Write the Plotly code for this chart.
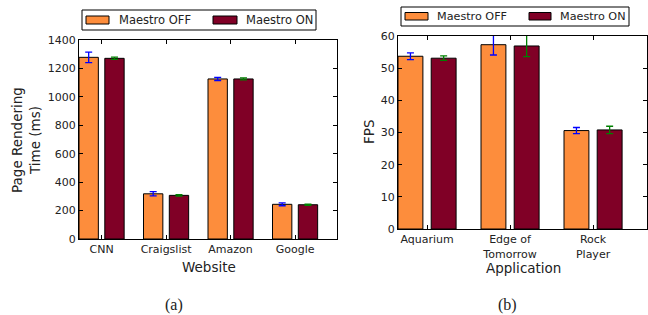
import plotly.graph_objects as go

# ---- data ----
websites = ["CNN", "Craigslist", "Amazon", "Google"]
render_off = [1278, 318, 1126, 244]
render_off_err = [37, 15, 11, 10]
render_on = [1271, 307, 1126, 241]
render_on_err = [8, 5, 7, 5]

apps = ["Aquarium", "Edge of<br>Tomorrow", "Rock<br>Player"]
fps_off = [53.7, 57.3, 30.6]
fps_off_err = [1.05, 3.2, 0.95]
fps_on = [53.1, 56.9, 30.8]
fps_on_err = [0.7, 3.3, 1.15]

series_names = ["Maestro OFF", "Maestro ON"]

ORANGE = "#FD8D3C"
DARKRED = "#800026"
FONT = "DejaVu Sans"
TXT = "#222"

fig = go.Figure()

def add_pair(off, off_err, on, on_err, xa, ya):
    pos = list(range(len(off)))
    fig.add_trace(go.Bar(
        x=pos, y=off, name=series_names[0], xaxis=xa, yaxis=ya,
        offset=-0.35, width=0.3,
        marker=dict(color=ORANGE, line=dict(color="black", width=1)),
        error_y=dict(type="data", array=off_err, color="blue", thickness=1.3, width=3.5),
        showlegend=False))
    fig.add_trace(go.Bar(
        x=pos, y=on, name=series_names[1], xaxis=xa, yaxis=ya,
        offset=0.05, width=0.3,
        marker=dict(color=DARKRED, line=dict(color="black", width=1)),
        error_y=dict(type="data", array=on_err, color="green", thickness=1.3, width=3.5),
        showlegend=False))

add_pair(render_off, render_off_err, render_on, render_on_err, "x", "y")
add_pair(fps_off, fps_off_err, fps_on, fps_on_err, "x2", "y2")

W, H = 648, 315
def px(v): return v / W
def py(v): return 1 - v / H

axis_common = dict(showline=True, linecolor="black", linewidth=1, mirror="ticks",
                   ticks="inside", ticklen=4, tickcolor="black", showgrid=False, zeroline=False,
                   tickfont=dict(family=FONT, size=11, color=TXT))

fig.update_layout(
    width=W, height=H, margin=dict(l=0, r=0, t=0, b=0, autoexpand=False),
    plot_bgcolor="white", paper_bgcolor="white",
    barmode="overlay", showlegend=False,
    font=dict(family=FONT, size=11, color=TXT),
    xaxis=dict(domain=[px(79), px(337)], range=[-0.35, 3.65], anchor="y",
               tickvals=list(range(len(websites))), ticktext=websites, **axis_common),
    yaxis=dict(domain=[py(239), py(40)], range=[0, 1400], dtick=200, anchor="x", **axis_common),
    xaxis2=dict(domain=[px(398), px(647)], range=[-0.35, 2.65], anchor="y2",
                tickvals=list(range(len(apps))), ticktext=apps, **axis_common),
    yaxis2=dict(domain=[py(229), py(36)], range=[0, 60], dtick=10, anchor="x2", **axis_common),
)

# ---- hand-drawn legends (matplotlib style: wide swatches) ----
def legend_box(box, items, fsize):
    x0, y0, x1, y1 = box
    fig.add_shape(type="rect", xref="paper", yref="paper", x0=px(x0), x1=px(x1), y0=py(y1), y1=py(y0),
                  line=dict(color="black", width=1), fillcolor="white", layer="above")
    for (sx0, sx1, sy0, sy1, tx, color, label) in items:
        fig.add_shape(type="rect", xref="paper", yref="paper", x0=px(sx0), x1=px(sx1), y0=py(sy1), y1=py(sy0),
                      line=dict(color="black", width=1), fillcolor=color, layer="above")
        fig.add_annotation(xref="paper", yref="paper", x=px(tx), y=py((sy0 + sy1) / 2), text=label,
                           showarrow=False, xanchor="left", yanchor="middle",
                           font=dict(family=FONT, size=fsize, color=TXT))

legend_box((82, 10, 316, 30), [
    (86, 109, 16, 24, 117, ORANGE, series_names[0]),
    (213, 237, 16, 24, 244, DARKRED, series_names[1]),
], 11.5)
legend_box((401, 7, 629, 26), [
    (405, 428, 12.5, 20, 435, ORANGE, series_names[0]),
    (529, 551, 12.5, 20, 558, DARKRED, series_names[1]),
], 11.2)

ann = [
    dict(text="Page Rendering<br>Time (ms)", x=px(26), y=py(140), textangle=-90,
         font=dict(family=FONT, size=13.5, color=TXT)),
    dict(text="Website", x=px(209), y=py(267), font=dict(family=FONT, size=13.5, color=TXT)),
    dict(text="FPS", x=px(369), y=py(132), textangle=-90, font=dict(family=FONT, size=13.5, color=TXT)),
    dict(text="Application", x=px(523), y=py(268), font=dict(family=FONT, size=13.5, color=TXT)),
    dict(text="(a)", x=px(174), y=py(305), font=dict(family="Liberation Serif", size=16, color=TXT)),
    dict(text="(b)", x=px(507), y=py(305), font=dict(family="Liberation Serif", size=16, color=TXT)),
]
for a in ann:
    fig.add_annotation(xref="paper", yref="paper", showarrow=False, xanchor="center", yanchor="middle", **a)

fig.write_html("out.html", config={"displayModeBar": False},
               post_script="document.body.style.margin='0';document.body.style.overflow='hidden';")
